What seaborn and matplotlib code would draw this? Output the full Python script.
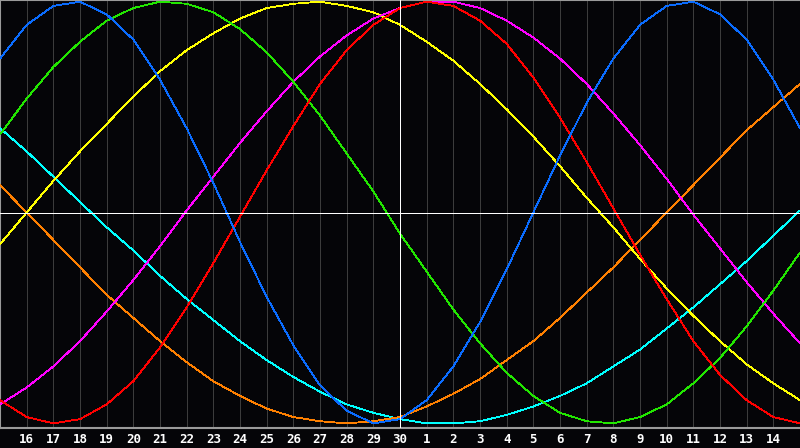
import numpy as np
import pandas as pd
import matplotlib
matplotlib.use("Agg")
import matplotlib.pyplot as plt
import seaborn as sns

# days shown on the chart (15th of one month to 15th of the next)
days = [15, 16, 17, 18, 19, 20, 21, 22, 23, 24, 25, 26, 27, 28, 29, 30,
        1, 2, 3, 4, 5, 6, 7, 8, 9, 10, 11, 12, 13, 14, 15]
today = 30

# daily values of each cycle (-1 .. 1)
physical = [0.73, 0.89, 0.98, 1.00, 0.94, 0.82, 0.63, 0.40, 0.14, -0.14, -0.40,
            -0.63, -0.82, -0.94, -1.00, -0.98, -0.89, -0.73, -0.52, -0.27, 0.00,
            0.27, 0.52, 0.73, 0.89, 0.98, 1.00, 0.94, 0.82, 0.63, 0.40]
emotional = [-0.89, -0.97, -1.00, -0.98, -0.91, -0.80, -0.64, -0.45, -0.24, -0.02, 0.20,
             0.41, 0.61, 0.77, 0.89, 0.97, 1.00, 0.98, 0.91, 0.80, 0.64,
             0.45, 0.24, 0.02, -0.20, -0.41, -0.61, -0.77, -0.89, -0.97, -1.00]
intellectual = [0.37, 0.54, 0.69, 0.81, 0.91, 0.97, 1.00, 0.99, 0.95, 0.87, 0.76,
                0.62, 0.46, 0.28, 0.10, -0.10, -0.28, -0.46, -0.62, -0.76, -0.87,
                -0.95, -0.99, -1.00, -0.97, -0.91, -0.81, -0.69, -0.54, -0.37, -0.19]
aesthetic = [-0.15, 0.00, 0.15, 0.29, 0.42, 0.55, 0.67, 0.77, 0.85, 0.92, 0.97,
             0.99, 1.00, 0.98, 0.95, 0.89, 0.81, 0.72, 0.61, 0.49, 0.36,
             0.22, 0.07, -0.07, -0.22, -0.36, -0.49, -0.61, -0.72, -0.81, -0.89]
intuition = [-0.91, -0.83, -0.73, -0.61, -0.47, -0.32, -0.16, 0.01, 0.17, 0.33, 0.48,
             0.62, 0.74, 0.84, 0.92, 0.97, 1.00, 1.00, 0.97, 0.91, 0.83,
             0.73, 0.61, 0.47, 0.32, 0.16, -0.01, -0.17, -0.33, -0.48, -0.62]
spiritual = [0.40, 0.29, 0.17, 0.05, -0.07, -0.18, -0.30, -0.41, -0.51, -0.61, -0.70,
             -0.78, -0.85, -0.91, -0.95, -0.98, -1.00, -1.00, -0.99, -0.96, -0.92,
             -0.87, -0.81, -0.73, -0.65, -0.55, -0.45, -0.34, -0.23, -0.11, 0.01]
awareness = [0.13, 0.00, -0.13, -0.26, -0.39, -0.50, -0.61, -0.71, -0.80, -0.87, -0.93,
             -0.97, -0.99, -1.00, -0.99, -0.97, -0.92, -0.86, -0.79, -0.70, -0.61,
             -0.50, -0.38, -0.26, -0.13, 0.00, 0.13, 0.26, 0.39, 0.50, 0.61]

series = {
    "spiritual": spiritual,
    "awareness": awareness,
    "aesthetic": aesthetic,
    "intuition": intuition,
    "intellectual": intellectual,
    "emotional": emotional,
    "physical": physical,
}
palette = {
    "physical": "#0a6cff",
    "emotional": "#ff0000",
    "intellectual": "#22e600",
    "aesthetic": "#ffff00",
    "intuition": "#ff00ff",
    "spiritual": "#00ffff",
    "awareness": "#ff8000",
}

pos = np.arange(len(days))
df = pd.concat(
    [pd.DataFrame({"pos": pos, "value": vals, "cycle": name}) for name, vals in series.items()],
    ignore_index=True,
)

sns.set_theme(style="dark")
bg = "#050508"
px = 0.72  # one pixel at 100 dpi, in points
fig = plt.figure(figsize=(8, 4.48), dpi=100, facecolor=bg)
ax = fig.add_axes([0, 20 / 448, 1, 428 / 448])
ax.set_facecolor(bg)

# vertical day grid
for p in pos[1:]:
    ax.axvline(p, color="#3c3c3c", lw=px, zorder=1, antialiased=False)

sns.lineplot(data=df, x="pos", y="value", hue="cycle", palette=palette,
             hue_order=list(series.keys()), estimator=None, legend=False,
             lw=0.6, antialiased=False, ax=ax, zorder=3)

# today marker and zero line
ax.axvline(days.index(today), color="white", lw=px, zorder=4, antialiased=False)
ax.axhline(0, color="white", lw=px, zorder=4, antialiased=False)

ax.set_xlim(0, len(days) - 1)
ax.set_ylim(-1.022, 1.008)
ax.set_xticks(pos[1:-1])
ax.set_xticklabels([str(d) for d in days[1:-1]], color="white",
                   fontfamily="DejaVu Sans Mono", fontweight="bold", fontsize=9)
ax.tick_params(axis="x", length=0, pad=3.5)
ax.set_yticks([])
ax.set_xlabel("")
ax.set_ylabel("")
ax.grid(False)

for side in ["left", "top", "bottom"]:
    ax.spines[side].set_visible(True)
    ax.spines[side].set_color("#9a9a9a")
    ax.spines[side].set_linewidth(1.5)
ax.spines["right"].set_visible(False)

fig.savefig("out.png", dpi=100, facecolor=bg)
